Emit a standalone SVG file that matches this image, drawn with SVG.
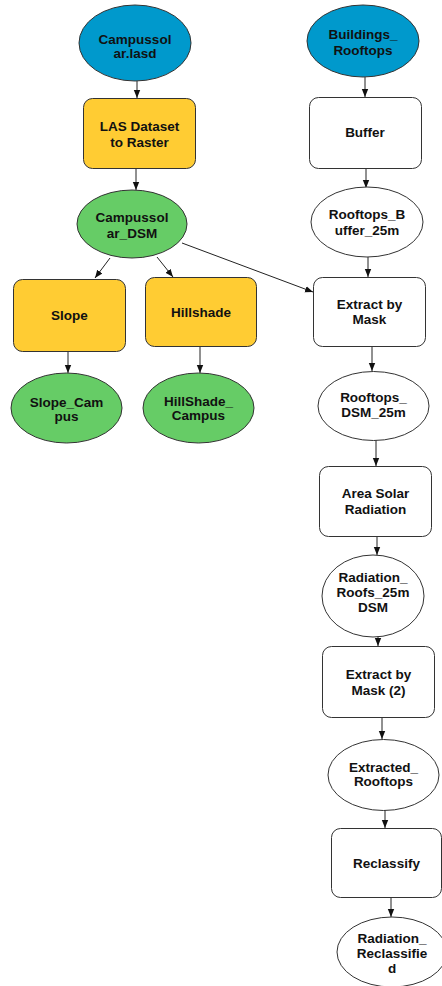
<svg xmlns="http://www.w3.org/2000/svg" width="442" height="986" viewBox="0 0 442 986">
<style>
.n{stroke:#333;stroke-width:1}
.blue{fill:#0099CC}
.yel{fill:#FFCC33}
.grn{fill:#66CC66}
.wht{fill:#FFFFFF}
text{font-family:"Liberation Sans",Arial,sans-serif;font-size:13.5px;font-weight:bold;fill:#111;text-anchor:middle}
.c line{stroke:#222;stroke-width:1;marker-end:url(#ah)}
</style>
<defs>
<marker id="ah" viewBox="0 0 8 8" refX="8" refY="4" markerWidth="8" markerHeight="8" markerUnits="userSpaceOnUse" orient="auto">
<path d="M0,0.8 L8,4 L0,7.2 z" fill="#111"/>
</marker>
</defs>
<rect width="442" height="986" fill="#fff"/>
<g class="c" id="connectors">
<line x1="137" y1="81" x2="137" y2="98"/>
<line x1="136" y1="168" x2="136" y2="190"/>
<line x1="365" y1="77" x2="365" y2="97"/>
<line x1="366" y1="169" x2="366" y2="188"/>
<line x1="110" y1="258" x2="95" y2="278"/>
<line x1="157" y1="257" x2="173" y2="277"/>
<line x1="182" y1="243" x2="313" y2="292"/>
<line x1="368" y1="257" x2="368" y2="277"/>
<line x1="372" y1="347" x2="372" y2="371"/>
<line x1="68" y1="352" x2="68" y2="373"/>
<line x1="200" y1="347" x2="200" y2="373"/>
<line x1="376" y1="440" x2="376" y2="466"/>
<line x1="377" y1="537" x2="377" y2="555"/>
<line x1="378" y1="636" x2="378" y2="646"/>
<line x1="382" y1="718" x2="382" y2="739"/>
<line x1="385" y1="810" x2="385" y2="828"/>
<line x1="391" y1="898" x2="391" y2="917"/>
</g>
<g id="campussolar_lasd">
<ellipse class="n blue" cx="135" cy="43" rx="56" ry="38"/>
<text x="135" y="44">Campussol</text><text x="135" y="58">ar.lasd</text>
</g>
<g id="buildings_rooftops">
<ellipse class="n blue" cx="363" cy="41" rx="56" ry="36"/>
<text x="363" y="39">Buildings_</text><text x="363" y="55">Rooftops</text>
</g>
<g id="las_to_raster">
<rect class="n yel" x="83.500" y="98.500" width="112" height="70" rx="9"/>
<text x="139.500" y="131">LAS Dataset</text><text x="139.500" y="147">to Raster</text>
</g>
<g id="buffer">
<rect class="n wht" x="309.500" y="97.500" width="112" height="71" rx="9"/>
<text x="365" y="137">Buffer</text>
</g>
<g id="campussolar_dsm">
<ellipse class="n grn" cx="132" cy="224" rx="55" ry="34"/>
<text x="132" y="222">Campussol</text><text x="132" y="238">ar_DSM</text>
</g>
<g id="rooftops_buffer">
<ellipse class="n wht" cx="367" cy="222" rx="56" ry="35"/>
<text x="367" y="219">Rooftops_B</text><text x="367" y="235">uffer_25m</text>
</g>
<g id="slope">
<rect class="n yel" x="13.500" y="279.500" width="112" height="72" rx="9"/>
<text x="69.500" y="320">Slope</text>
</g>
<g id="hillshade">
<rect class="n yel" x="145.500" y="277.500" width="111" height="69" rx="9"/>
<text x="201" y="317">Hillshade</text>
</g>
<g id="extract_by_mask">
<rect class="n wht" x="313.500" y="277.500" width="112" height="69" rx="9"/>
<text x="369.500" y="309">Extract by</text><text x="369.500" y="324">Mask</text>
</g>
<g id="slope_campus">
<ellipse class="n grn" cx="66.500" cy="408" rx="55.500" ry="35"/>
<text x="66.500" y="407">Slope_Cam</text><text x="66.500" y="421">pus</text>
</g>
<g id="hillshade_campus">
<ellipse class="n grn" cx="198.500" cy="408" rx="55.500" ry="35"/>
<text x="198.500" y="406">HillShade_</text><text x="198.500" y="420">Campus</text>
</g>
<g id="rooftops_dsm">
<ellipse class="n wht" cx="373.500" cy="406" rx="55.500" ry="34.500"/>
<text x="373.500" y="402">Rooftops_</text><text x="373.500" y="417">DSM_25m</text>
</g>
<g id="area_solar_radiation">
<rect class="n wht" x="319.500" y="466.500" width="112" height="70" rx="9"/>
<text x="375.500" y="498">Area Solar</text><text x="375.500" y="514">Radiation</text>
</g>
<g id="radiation_roofs">
<ellipse class="n wht" cx="373" cy="596" rx="51" ry="41"/>
<text x="373" y="582">Radiation_</text><text x="373" y="597">Roofs_25m</text><text x="373" y="612">DSM</text>
</g>
<g id="extract_by_mask_2">
<rect class="n wht" x="322.500" y="646.500" width="112" height="71" rx="9"/>
<text x="378.500" y="679">Extract by</text><text x="378.500" y="695">Mask (2)</text>
</g>
<g id="extracted_rooftops">
<ellipse class="n wht" cx="383.500" cy="775" rx="55.500" ry="35.500"/>
<text x="383.500" y="772">Extracted_</text><text x="383.500" y="786">Rooftops</text>
</g>
<g id="reclassify">
<rect class="n wht" x="331.500" y="828.500" width="110" height="69" rx="9"/>
<text x="386.500" y="868">Reclassify</text>
</g>
<g id="radiation_reclassified">
<ellipse class="n wht" cx="392" cy="952" rx="55" ry="35"/>
<text x="392" y="943">Radiation_</text><text x="392" y="958">Reclassifie</text><text x="392" y="973">d</text>
</g>
</svg>
